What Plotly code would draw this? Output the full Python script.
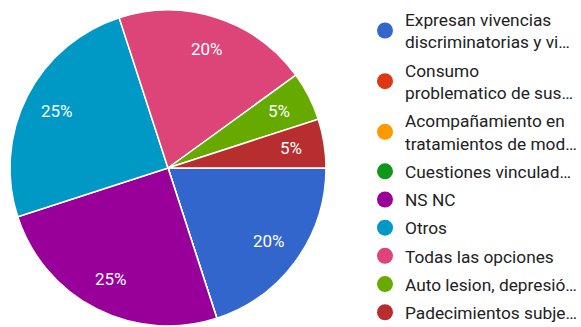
import math
import plotly.graph_objects as go

# Response categories (legend text, truncated as displayed)
labels = [
    "Expresan vivencias<br>discriminatorias y vi…",
    "Consumo<br>problematico de sus…",
    "Acompañamiento en<br>tratamientos de mod…",
    "Cuestiones vinculad…",
    "NS NC",
    "Otros",
    "Todas las opciones",
    "Auto lesion, depresió…",
    "Padecimientos subje…",
]
# Share of responses (percent)
values = [20, 0, 0, 0, 25, 25, 20, 5, 5]
colors = ["#3366cc", "#dc3912", "#ff9900", "#109618", "#990099",
          "#0099c6", "#dd4477", "#66aa00", "#b82e2e"]

W, H = 581, 327
# pie placement in pixels (left, right, top, bottom)
PL, PR, PT, PB = 10, 326, 10, 326

fig = go.Figure()
fig.add_trace(go.Pie(
    labels=labels,
    values=values,
    sort=False,
    direction="clockwise",
    rotation=90,
    marker=dict(colors=colors, line=dict(color="white", width=1.5)),
    textinfo="none",
    showlegend=False,
    hoverinfo="label+percent",
    domain=dict(x=[PL / W, PR / W], y=[1 - PB / H, 1 - PT / H]),
))

# Percentage labels placed along each slice's bisector, starting at 3 o'clock
total = sum(values)
cx, cy = (PL + PR) / 2, (PT + PB) / 2
R = (PR - PL) / 2
label_r = 0.79 * R
cum = 0.0
for v in values:
    if v > 0:
        mid = (cum + v / 2) / total * 2 * math.pi  # clockwise from east
        px = cx + label_r * math.cos(mid)
        py = cy + label_r * math.sin(mid)
        fig.add_annotation(
            x=px / W, y=1 - py / H, xref="paper", yref="paper",
            text=f"{round(v / total * 100)}%", showarrow=False,
            xanchor="center", yanchor="middle",
            font=dict(color="white", size=17, family="Roboto"),
        )
    cum += v

# Circle-marker legend entries, one per category
for i, (lab, col) in enumerate(zip(labels, colors)):
    fig.add_trace(go.Scatter(
        x=[None], y=[None], mode="markers", name=lab,
        marker=dict(color=col, size=16, symbol="circle"),
        legendgroup=f"g{i}", showlegend=True, hoverinfo="skip",
    ))

fig.update_layout(
    width=W, height=H,
    margin=dict(l=0, r=0, t=0, b=0, autoexpand=False),
    paper_bgcolor="white", plot_bgcolor="white",
    font=dict(family="Roboto", size=17.3, color="#222222"),
    xaxis=dict(visible=False), yaxis=dict(visible=False),
    legend=dict(x=365 / W, y=1 - 1.5 / H, xanchor="left", yanchor="top",
                tracegroupgap=2.7, maxheight=400,
                font=dict(size=17.3, color="#222222", family="Roboto")),
)

fig.write_html("out.html")
